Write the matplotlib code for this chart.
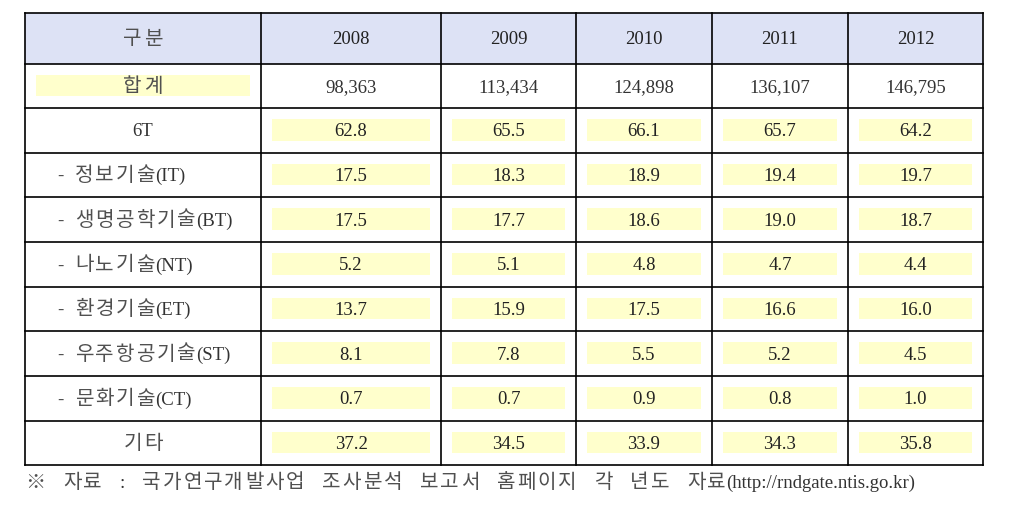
import matplotlib
matplotlib.use("Agg")
import matplotlib.pyplot as plt
from matplotlib.patches import Rectangle

# data
header_label = "구분"
years = ["2008", "2009", "2010", "2011", "2012"]
total_label = "합계"
totals = ["98,363", "113,434", "124,898", "136,107", "146,795"]

row_labels = ["6T", "- 정보기술(IT)", "- 생명공학기술(BT)", "- 나노기술(NT)",
              "- 환경기술(ET)", "- 우주항공기술(ST)", "- 문화기술(CT)", "기타"]
share_6t = [62.8, 65.5, 66.1, 65.7, 64.2]
share_it = [17.5, 18.3, 18.9, 19.4, 19.7]
share_bt = [17.5, 17.7, 18.6, 19.0, 18.7]
share_nt = [5.2, 5.1, 4.8, 4.7, 4.4]
share_et = [13.7, 15.9, 17.5, 16.6, 16.0]
share_st = [8.1, 7.8, 5.5, 5.2, 4.5]
share_ct = [0.7, 0.7, 0.9, 0.8, 1.0]
share_etc = [37.2, 34.5, 33.9, 34.3, 35.8]
shares = [share_6t, share_it, share_bt, share_nt, share_et, share_st, share_ct, share_etc]

footnote = "※ 자료 : 국가연구개발사업 조사분석 보고서 홈페이지 각 년도 자료(http://rndgate.ntis.go.kr)"

# layout (pixels)
col_edges = [25, 261, 441, 576, 712, 848, 983]
row_edges = [13, 64, 108, 153, 197, 242, 287, 331, 376, 421, 465]
inset = 11
latin = "Liberation Serif"
hangul = "Noto Sans CJK KR"
fs = 13.5
fs_k = 14.5
track = 2.0     # extra space between two hangul glyphs
header_bg = "#dde2f5"
mark_bg = "#ffffcc"
txt = "#222222"
kor = "#505050"

fig = plt.figure(figsize=(10.26, 5.07), dpi=100)
ax = fig.add_axes([0, 0, 1, 1])
ax.set_xlim(0, 1026)
ax.set_ylim(507, 0)
ax.axis("off")

pending = []   # (pieces, anchor_x, ha) laid out after first draw


def is_k(ch):
    return "\uac00" <= ch <= "\ud7a3" or ch == "※"


def split_runs(s):
    # hangul chars one by one (for tracking), other text in runs
    out = []
    for ch in s:
        k = is_k(ch)
        if k or not out or out[-1][0]:
            out.append([k, ch])
        else:
            out[-1][1] += ch
    return out


def mixed(x, y, s, ha="center", color=txt):
    pieces = []
    for k, chunk in split_runs(s):
        t = ax.text(0, y, chunk, ha="left", va="baseline",
                    family=hangul if k else latin,
                    fontsize=fs_k if k else fs,
                    color=kor if k else color, zorder=3)
        pieces.append((t, k))
    pending.append((pieces, x, ha))
    return pieces


def base_y(r):
    return (row_edges[r] + row_edges[r + 1]) / 2 + 6


def cell_x(c):
    return (col_edges[c] + col_edges[c + 1]) / 2


def mark(r, c):
    x0, x1 = col_edges[c] + inset, col_edges[c + 1] - inset
    y0, y1 = row_edges[r] + inset, row_edges[r + 1] - inset - 1
    ax.add_patch(Rectangle((x0, y0), x1 - x0, y1 - y0, color=mark_bg, lw=0, zorder=1))


# header
ax.add_patch(Rectangle((col_edges[0], row_edges[0]), col_edges[-1] - col_edges[0],
                       row_edges[1] - row_edges[0], color=header_bg, lw=0, zorder=0))
mixed(cell_x(0), base_y(0), header_label)
for i, yr in enumerate(years):
    mixed(cell_x(i + 1), base_y(0), yr)

# totals row
mark(1, 0)
mixed(cell_x(0), base_y(1), total_label)
for i, v in enumerate(totals):
    mixed(cell_x(i + 1), base_y(1), v, color="#333333")

# share rows
for r, (lab, vals) in enumerate(zip(row_labels, shares)):
    row = r + 2
    if lab.startswith("- "):
        ax.text(57, base_y(row), "-", ha="left", va="baseline", family=latin,
                fontsize=fs, color=kor, zorder=3)
        mixed(75, base_y(row), lab[2:], ha="left", color="#333333")
    else:
        mixed(cell_x(0), base_y(row), lab, color="#333333")
    for i, v in enumerate(vals):
        mark(row, i + 1)
        mixed(cell_x(i + 1), base_y(row), f"{v:.1f}")

# grid lines
for yy in row_edges:
    ax.plot([col_edges[0], col_edges[-1]], [yy, yy], color="black", lw=1.2, zorder=4,
            solid_capstyle="projecting")
for xx in col_edges:
    ax.plot([xx, xx], [row_edges[0], row_edges[-1]], color="black", lw=1.2, zorder=4,
            solid_capstyle="projecting")

# footnote words (justified between two x limits)
fn_y = 488
fn_x0, fn_x1 = 25, 915
fn_words = [mixed(0, fn_y, w, ha="none", color="#333333") for w in footnote.split(" ")]

# layout pass
fig.canvas.draw()
rend = fig.canvas.get_renderer()


def width(pieces):
    ws = []
    for i, (p, k) in enumerate(pieces):
        w = p.get_window_extent(rend).width
        if k and i + 1 < len(pieces) and pieces[i + 1][1]:
            w += track
        ws.append(w)
    return ws


for pieces, x, ha in pending:
    if ha == "none":
        continue
    ws = width(pieces)
    pos = x - sum(ws) / 2 if ha == "center" else x
    for (p, _), w in zip(pieces, ws):
        p.set_x(pos)
        pos += w

word_ws = [width(p) for p in fn_words]
gap = (fn_x1 - fn_x0 - sum(sum(w) for w in word_ws)) / (len(fn_words) - 1)
pos = fn_x0
for pieces, ws in zip(fn_words, word_ws):
    for (p, _), w in zip(pieces, ws):
        p.set_x(pos)
        pos += w
    pos += gap

fig.savefig("out.png", dpi=100)
